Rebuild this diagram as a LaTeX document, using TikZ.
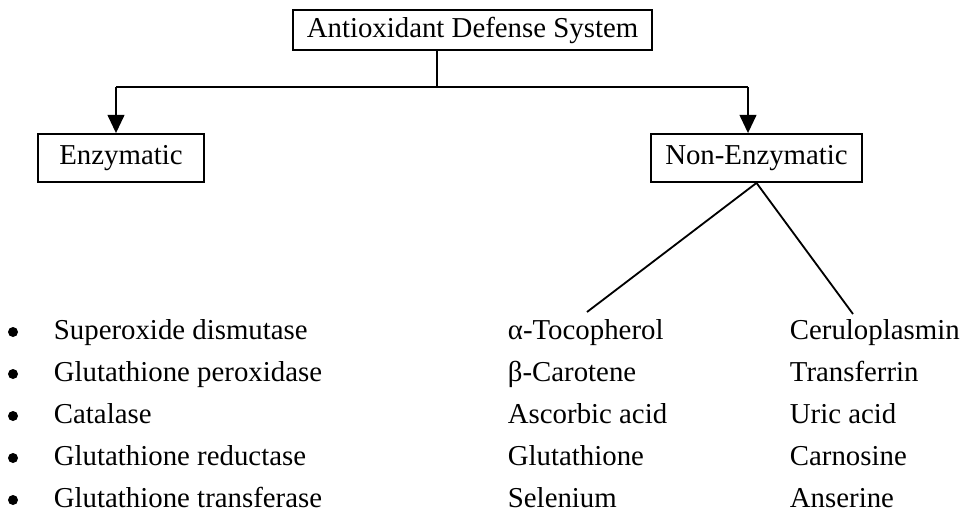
\documentclass[tikz,border=0pt]{standalone}
\usepackage{fontspec}
\setmainfont{Liberation Serif}
\usetikzlibrary{arrows.meta}

\begin{document}
\begin{tikzpicture}[x=0.025cm, y=-0.025cm, line width=1.3pt,
	font=\fontsize{20.5pt}{24pt}\selectfont,
	box/.style={draw, rectangle, inner sep=0pt},
	item/.style={anchor=base west, inner sep=0pt},
	arr/.style={-{Triangle[length=13pt, width=12pt]}}]
	\useasboundingbox (0,0) rectangle (960,515);
	\def\gap{42}

	% boxes
	\node[box, minimum width=359*0.025cm, minimum height=40*0.025cm] (ads) at (472.5,30) {Antioxidant Defense System};
	\node[box, minimum width=166*0.025cm, minimum height=48*0.025cm] (enz) at (121,158) {Enzymatic};
	\node[box, minimum width=211*0.025cm, minimum height=48*0.025cm] (nonenz) at (756.5,158) {Non-Enzymatic};

	% split
	\coordinate (split) at (437,87);
	\coordinate (lt) at (116,87);
	\coordinate (rt) at (748,87);
	\draw (ads.south -| split) -- (split);
	\draw (lt) -- (rt);
	\draw[arr] (lt) -- (lt |- enz.north);
	\draw[arr] (rt) -- (rt |- nonenz.north);

	% non-enzymatic branches
	\coordinate (bl) at (587,312);
	\coordinate (br) at (853,314);
	\draw (nonenz.south) -- (bl);
	\draw (nonenz.south) -- (br);

	% enzymes
	\foreach \t [count=\i from 0] in {Superoxide dismutase, Glutathione peroxidase, Catalase, Glutathione reductase, Glutathione transferase}{
		\fill (13,{332+\gap*\i}) circle[radius=5];
		\node[item] (ez\i) at (53,{339+\gap*\i}) {\t};
	}

	% non-enzymatic
	\foreach \t [count=\i from 0] in {α-Tocopherol, β-Carotene, Ascorbic acid, Glutathione, Selenium}{
		\node[item] (na\i) at (507,{339+\gap*\i}) {\t};
	}
	\foreach \t [count=\i from 0] in {Ceruloplasmin, Transferrin, Uric acid, Carnosine, Anserine}{
		\node[item] (nb\i) at (789,{339+\gap*\i}) {\t};
	}
\end{tikzpicture}
\end{document}
